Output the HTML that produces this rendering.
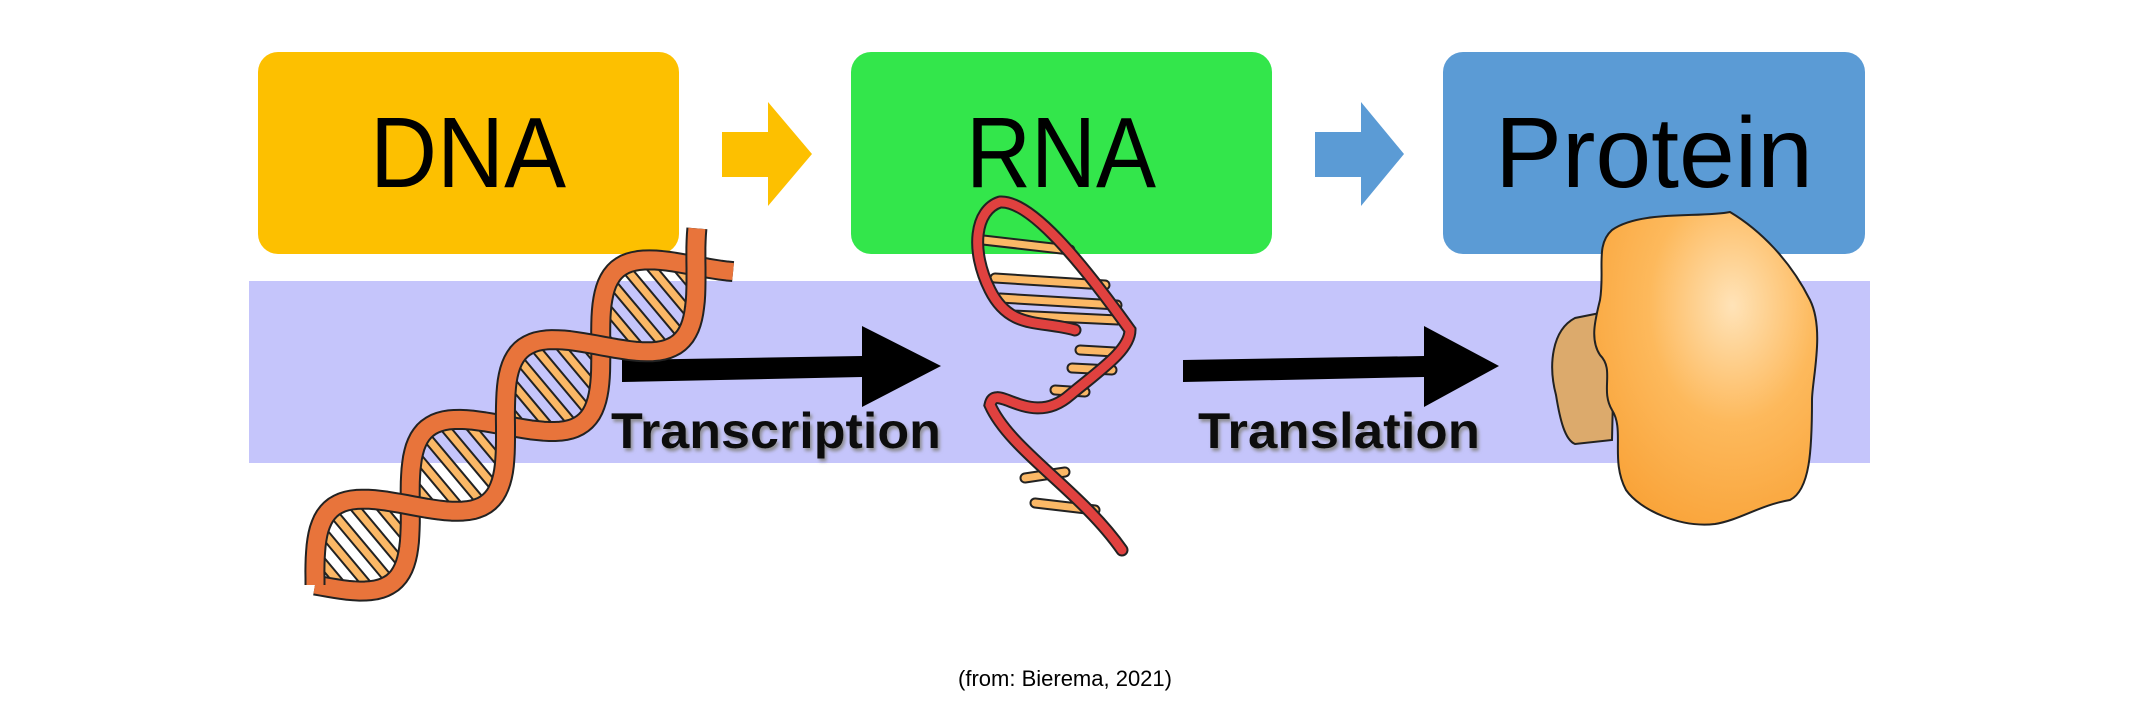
<!DOCTYPE html>
<html><head><meta charset="utf-8"><style>
html,body{margin:0;padding:0;background:#fff;}
body{width:2130px;height:720px;overflow:hidden;position:relative;}
svg{position:absolute;left:0;top:0;}
</style></head><body>
<svg id="s" width="2130" height="720" viewBox="0 0 2130 720" xmlns="http://www.w3.org/2000/svg">
<defs>
<radialGradient id="pg" cx="0.62" cy="0.3" r="0.75">
<stop offset="0" stop-color="#ffe3b8"/><stop offset="0.5" stop-color="#fdb95c"/><stop offset="1" stop-color="#f9a43a"/>
</radialGradient>
<filter id="sh"><feDropShadow dx="2" dy="3" stdDeviation="1.5" flood-color="#888" flood-opacity="0.9"/></filter>
</defs>
<rect x="258" y="52" width="421" height="202" rx="20" fill="#fdc000"/>
<rect x="851" y="52" width="421" height="202" rx="20" fill="#33e64b"/>
<rect x="1443" y="52" width="422" height="202" rx="20" fill="#5b9bd5"/>
<polygon points="722,132 768,132 768,102 812,154 768,206 768,177 722,177" fill="#fdc000"/>
<polygon points="1315,132 1361,132 1361,102 1404,154 1361,206 1361,177 1315,177" fill="#5b9bd5"/>
<rect x="249" y="281" width="1621" height="182" fill="#c5c5fb"/>
<g font-family="Liberation Sans, sans-serif" font-size="100" text-anchor="middle" fill="#000">
<text x="468" y="187" textLength="196" lengthAdjust="spacingAndGlyphs">DNA</text>
<text x="1061" y="187" textLength="190" lengthAdjust="spacingAndGlyphs">RNA</text>
<text x="1654" y="187" textLength="318" lengthAdjust="spacingAndGlyphs">Protein</text>
</g>
<polygon points="622,360 862,356 862,326 941,366 862,407 862,377 622,382" fill="#000"/>
<polygon points="1183,360 1424,356 1424,326 1499,366 1424,407 1424,377 1183,382" fill="#000"/>
<g font-family="Liberation Sans, sans-serif" font-weight="bold" font-size="50" fill="#111" filter="url(#sh)">
<text x="611" y="448" textLength="330" lengthAdjust="spacingAndGlyphs">Transcription</text>
<text x="1198" y="448" textLength="282" lengthAdjust="spacingAndGlyphs">Translation</text>
</g>
<g id="dna"></g>
<g id="rna"></g>
<path d="M1575,318 C1552,330 1548,365 1556,395 C1560,420 1565,440 1575,444 L1612,440 L1615,310 Z" fill="#dcaa6c" stroke="#222" stroke-width="2"/>
<path d="M1612,230 C1640,210 1700,218 1730,212 C1760,230 1790,260 1810,300 C1825,330 1812,380 1812,400 C1812,450 1810,490 1790,500 C1760,505 1740,520 1715,524 C1680,528 1640,510 1626,490 C1610,460 1625,430 1612,410 C1600,390 1615,370 1600,355 C1590,340 1595,320 1600,300 C1605,270 1595,245 1612,230 Z" fill="url(#pg)" stroke="#222" stroke-width="2"/>
<text x="1065" y="686" font-family="Liberation Sans, sans-serif" font-size="22" text-anchor="middle" fill="#000">(from: Bierema, 2021)</text>
</svg>
<script>
var NS="http://www.w3.org/2000/svg";
function el(p,t,a){var e=document.createElementNS(NS,t);for(var k in a)e.setAttribute(k,a[k]);p.appendChild(e);return e;}
var g=document.getElementById("dna");
var A=[315,585],B=[715,250];
var dx=B[0]-A[0],dy=B[1]-A[1],L=Math.hypot(dx,dy),ux=dx/L,uy=dy/L,nx=-uy,ny=ux;
var amp=48,turns=2.1;
function pt(t,ph){var s=amp*Math.sin(2*Math.PI*turns*t+ph);return [A[0]+dx*t+nx*s,A[1]+dy*t+ny*s];}
function strand(ph){var d="";for(var i=0;i<=120;i++){var p=pt(i/120,ph);d+=(i?"L":"M")+p[0].toFixed(1)+","+p[1].toFixed(1);}return d;}
for(var i=1;i<26;i++){var t=i/26;var p=pt(t,0),q=pt(t,Math.PI);
el(g,"line",{x1:p[0],y1:p[1],x2:q[0],y2:q[1],stroke:"#222","stroke-width":11,"stroke-linecap":"round"});
el(g,"line",{x1:p[0],y1:p[1],x2:q[0],y2:q[1],stroke:"#fbb866","stroke-width":7,"stroke-linecap":"round"});}
[0,Math.PI].forEach(function(ph){var d=strand(ph);
el(g,"path",{d:d,fill:"none",stroke:"#222","stroke-width":21,"stroke-linejoin":"round"});
el(g,"path",{d:d,fill:"none",stroke:"#e8743b","stroke-width":17,"stroke-linejoin":"round"});});
var r=document.getElementById("rna");
var rungs=[[983,240,1070,250],[995,278,1105,285],[1000,298,1117,305],[1012,315,1118,320],[1080,350,1115,352],[1072,368,1112,370],[1055,390,1085,392],[1025,478,1065,472],[1035,503,1095,510]];
rungs.forEach(function(b){el(r,"line",{x1:b[0],y1:b[1],x2:b[2],y2:b[3],stroke:"#222","stroke-width":11,"stroke-linecap":"round"});
el(r,"line",{x1:b[0],y1:b[1],x2:b[2],y2:b[3],stroke:"#fbb866","stroke-width":7,"stroke-linecap":"round"});});
var rd="M1000,202 C975,210 970,250 990,290 C1010,330 1040,320 1075,330 M1000,202 C1030,200 1080,260 1130,330 C1130,350 1100,370 1070,395 C1030,430 995,380 990,405 C1010,450 1080,490 1122,550";
el(r,"path",{d:rd,fill:"none",stroke:"#222","stroke-width":13,"stroke-linecap":"round"});
el(r,"path",{d:rd,fill:"none",stroke:"#e0413f","stroke-width":9,"stroke-linecap":"round"});
</script>
</body></html>
